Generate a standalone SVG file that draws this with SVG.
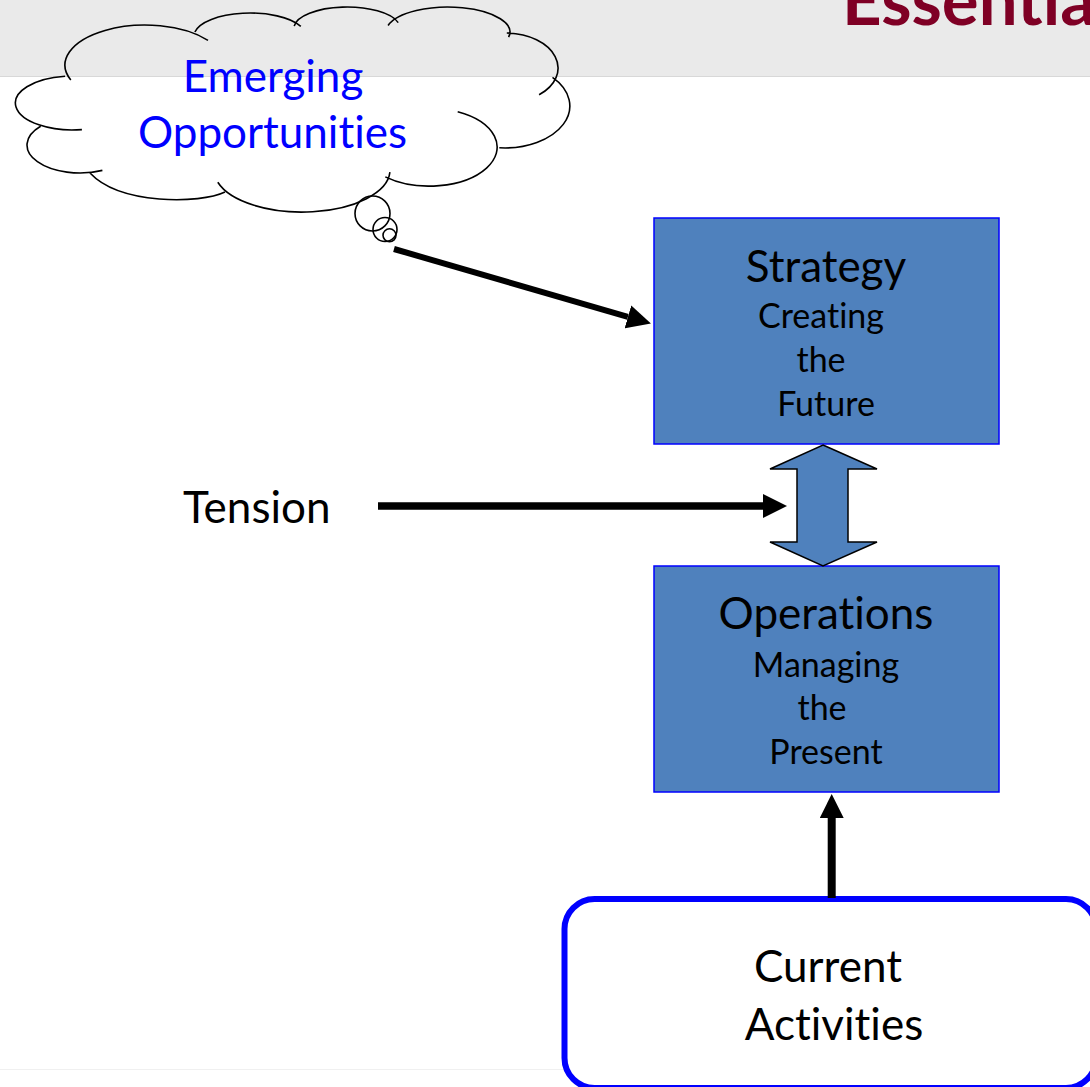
<svg xmlns="http://www.w3.org/2000/svg" width="1090" height="1087" viewBox="0 0 1090 1087">
<style>
text{font-variant-ligatures:none;font-feature-settings:"liga" 0,"clig" 0}
.big{font-family:Lato,"Open Sans","Liberation Sans",sans-serif;font-size:44px;fill:#000;text-anchor:middle}
.sub{font-family:Lato,"Open Sans","Liberation Sans",sans-serif;font-size:34px;fill:#000;text-anchor:middle}
.box{fill:#4F81BD;stroke:#0000FF;stroke-width:1.5}
.cl{fill:none;stroke:#000;stroke-width:1.6}
.conn{stroke:#000;fill:none}
</style>
<defs>
<marker id="ah" markerUnits="userSpaceOnUse" markerWidth="24" markerHeight="24" refX="0" refY="12" orient="auto" viewBox="0 0 24 24">
<path d="M0,0 L24,12 L0,24 z" fill="#000"/>
</marker>
</defs>
<rect x="0" y="0" width="1090" height="76" fill="#EAEAEA"/>
<line x1="0" y1="76.5" x2="1090" y2="76.5" stroke="#D8D8D8" stroke-width="1.2"/>
<line x1="0" y1="1069.5" x2="1090" y2="1069.5" stroke="#F0F0F0" stroke-width="1.2"/>
<text x="842" y="25" font-family="Lato,'Open Sans','Liberation Sans',sans-serif" font-weight="bold" font-size="69" fill="#7F0025">Essentia</text>
<g id="cloud">
<path class="cl" d="M102.4,170.4 A53,28 0 0 1 40.6,126.3 M81.9,129.6 A57,27 0 1 1 65.1,76.2 M70.8,80 A80,40 0 0 1 208,40.4 M194.9,32 A56,23 0 0 1 300.8,26.3 M294.2,26.2 A53,21 0 0 1 398.2,22.6 M388.1,25.5 A62,25 0 0 1 508.6,37.2 M506.8,33 A53,35 0 0 1 539.1,94.8 M552.5,77.4 A65,42 0 0 1 499.3,147.8 M457.7,111.7 A68,39 0 1 1 385.3,176.9 M389.9,172.2 A88,42 0 0 1 217.8,182.3 M225,192 C200,204 120,205 90,173"/>
<circle class="cl" cx="372.5" cy="213.5" r="17.5"/>
<circle class="cl" cx="385" cy="229.5" r="12"/>
<circle class="cl" cx="389.5" cy="235.3" r="6.5"/>
<text class="big" x="273" y="92" style="fill:#0000FF">Emerging</text>
<text class="big" x="272.5" y="148" style="fill:#0000FF">Opportunities</text>
</g>
<g id="strategy">
<rect class="box" x="654" y="218" width="345" height="226"/>
<text class="big" x="826" y="282">Strategy</text>
<text class="sub" x="821" y="328">Creating</text>
<text class="sub" x="821" y="372">the</text>
<text class="sub" x="826" y="416">Future</text>
</g>
<g id="operations">
<rect class="box" x="654" y="566" width="345" height="226"/>
<text class="big" x="826" y="629">Operations</text>
<text class="sub" x="826" y="677">Managing</text>
<text class="sub" x="822" y="720">the</text>
<text class="sub" x="826" y="764">Present</text>
</g>
<g id="tension">
<text class="big" x="183" y="523" style="text-anchor:start">Tension</text>
</g>
<g id="current">
<rect x="564.5" y="899" width="531.5" height="189" rx="30" ry="30" fill="#FFFFFF" stroke="#0000FF" stroke-width="6"/>
<text class="big" x="828" y="982">Current</text>
<text class="big" x="834" y="1040">Activities</text>
</g>
<g id="connectors">
<path d="M823,445 L877,469 L848,469 L848,542 L877,542 L823,566 L770,542 L797,542 L797,469 L770,469 Z" fill="#4F81BD" stroke="#000" stroke-width="1.5" stroke-linejoin="miter"/>
<line class="conn" x1="394" y1="249" x2="627.9" y2="316.9" stroke-width="6" marker-end="url(#ah)"/>
<line class="conn" x1="378" y1="506" x2="763" y2="506" stroke-width="7.5" marker-end="url(#ah)"/>
<line class="conn" x1="831.7" y1="898" x2="831.7" y2="818" stroke-width="8" marker-end="url(#ah)"/>
</g>
</svg>
